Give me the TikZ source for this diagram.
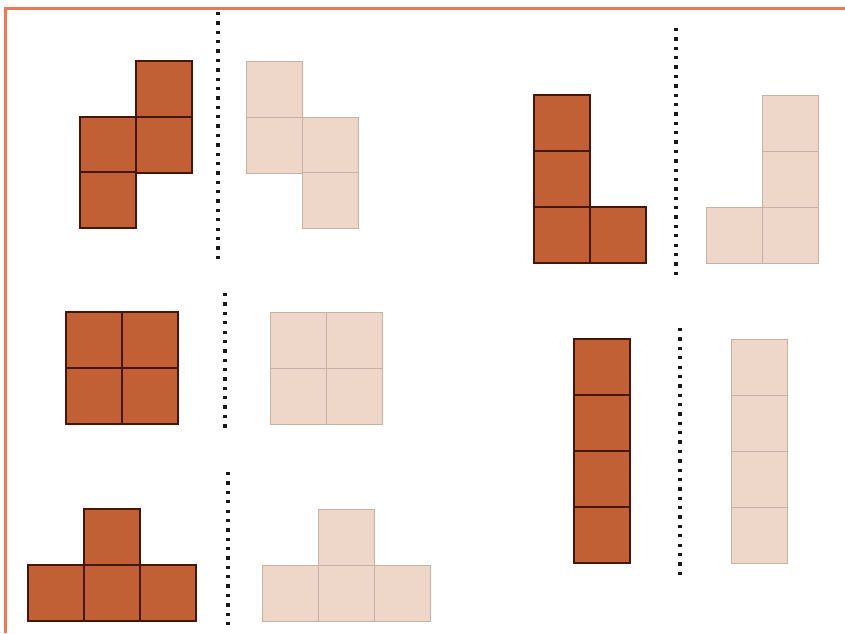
\documentclass[tikz,border=0pt]{standalone}
\usepackage{tikz}
\usetikzlibrary{positioning}
\definecolor{tileDark}{RGB}{193,96,52}
\definecolor{tileEdge}{RGB}{70,22,8}
\definecolor{tileLight}{RGB}{238,214,201}
\definecolor{tileLightEdge}{RGB}{200,176,164}
\definecolor{frameOrange}{RGB}{236,120,88}

\begin{document}
\begin{tikzpicture}[
  x=0.03cm, y=-0.03cm,
  darkcell/.style={draw=tileEdge, fill=tileDark, line width=1.8pt},
  lightcell/.style={draw=tileLightEdge, fill=tileLight, line width=0.8pt},
  mirror/.style={line width=2.8pt, black!90, dash pattern=on 2.8pt off 5.2pt},
  frame/.style={frameOrange, line width=2.4pt}
]
\useasboundingbox (0,0) rectangle (845,633);

% Frame (top and left only)
\draw[frame] (845,8.5) -- (5.5,8.5) -- (5.5,633);

% Dark pieces
\foreach \x/\y in {136/61, 80/117, 136/117, 80/172,     % S
                   534/95, 534/151, 534/207, 590/207,   % L
                   66/312, 122/312, 66/368, 122/368,    % O
                   84/509, 28/565, 84/565, 140/565,     % T
                   574/339, 574/395, 574/451, 574/507}  % I
  \draw[darkcell] (\x,\y) rectangle ++(56,56);

% Mirror images
\foreach \x/\y in {246/61, 246/117, 302/117, 302/172,
                   762/95, 762/151, 762/207, 706/207,
                   270/312, 326/312, 270/368, 326/368,
                   318/509, 262/565, 318/565, 374/565,
                   731/339, 731/395, 731/451, 731/507}
  \draw[lightcell] (\x,\y) rectangle ++(56,56);

% Mirror lines
\foreach \x/\ya/\yb in {218/12/260, 676/28/275, 225/293/428,
                        228/472/630, 680/328/575}
  \draw[mirror] (\x,\ya) -- (\x,\yb);

\end{tikzpicture}
\end{document}
